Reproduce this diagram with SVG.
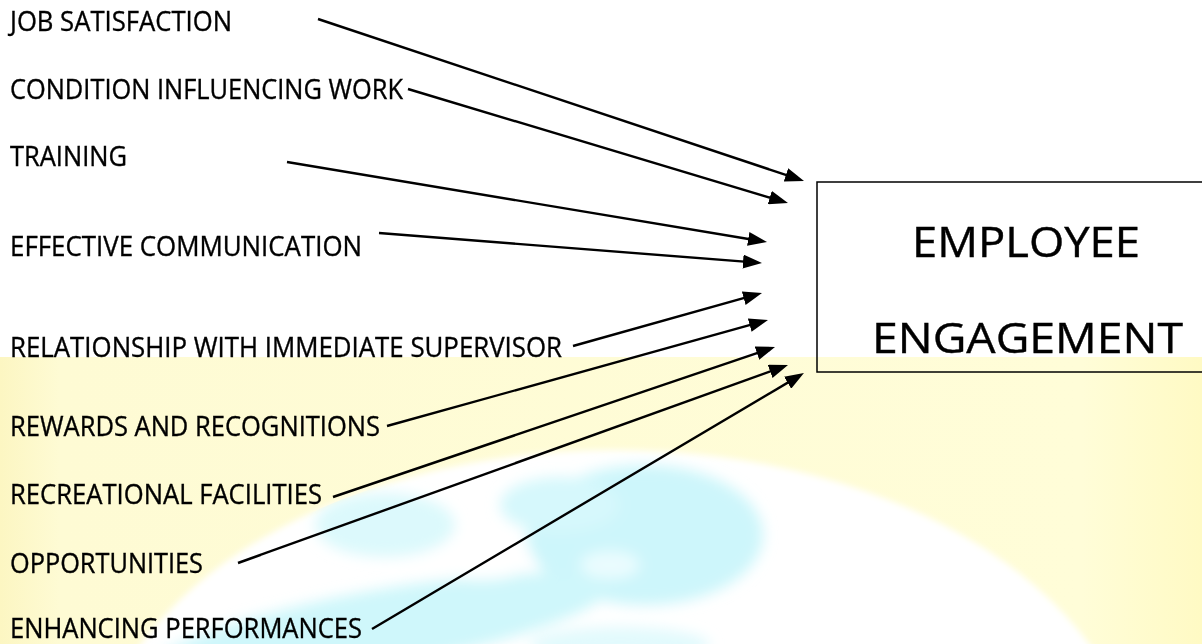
<svg xmlns="http://www.w3.org/2000/svg" width="1202" height="644" viewBox="0 0 1202 644">
  <defs>
    <style>
      .label { font-family: "Open Sans", "Noto Sans", "Liberation Sans", sans-serif; font-size: 26.5px; fill: #000; stroke: #000; stroke-width: 0.35; }
      .title { font-family: "Open Sans", "Noto Sans", "Liberation Sans", sans-serif; font-size: 41.5px; fill: #000; stroke: #000; stroke-width: 0.4; }
      .link { stroke: #000; stroke-width: 2.4; fill: none; marker-end: url(#arrow); }
      .box { fill: none; stroke: #000; stroke-width: 1.5; }
    </style>
    <!-- filled arrowhead, 19 long and 14 wide; the tip sits 8.1 past the line end -->
    <marker id="arrow" viewBox="0 0 19 14" refX="10.9" refY="7" markerUnits="userSpaceOnUse" markerWidth="19" markerHeight="14" orient="auto">
      <path d="M0,0 L19,7 L0,14 z" fill="#000"/>
    </marker>
    <linearGradient id="sand" x1="0" y1="0" x2="1" y2="0">
      <stop offset="0" stop-color="#fcf6c2"/>
      <stop offset="0.05" stop-color="#fefbd4"/>
      <stop offset="0.9" stop-color="#fffdd8"/>
      <stop offset="1" stop-color="#fffac4"/>
    </linearGradient>
    <filter id="edge" x="-10%" y="-10%" width="120%" height="120%">
      <feGaussianBlur stdDeviation="3"/>
    </filter>
    <filter id="haze" x="-20%" y="-20%" width="140%" height="140%">
      <feGaussianBlur stdDeviation="7"/>
    </filter>
    <clipPath id="globeClip">
      <ellipse cx="615" cy="790" rx="525" ry="340"/>
    </clipPath>
  </defs>

  <!-- page and backdrop -->
  <rect x="0" y="0" width="1202" height="644" fill="#fff"/>
  <rect x="0" y="357" width="1202" height="287" fill="url(#sand)"/>
  <g id="globe">
    <ellipse cx="615" cy="790" rx="525" ry="340" fill="#fff" filter="url(#edge)"/>
    <g clip-path="url(#globeClip)" filter="url(#haze)">
      <!-- upper continent -->
      <ellipse cx="645" cy="535" rx="118" ry="70" fill="#cdf6fb"/>
      <ellipse cx="560" cy="505" rx="60" ry="28" fill="#d6f8fc"/>
      <!-- middle patch -->
      <ellipse cx="385" cy="525" rx="70" ry="32" fill="#dcf9fc"/>
      <!-- lower band -->
      <ellipse cx="380" cy="628" rx="230" ry="38" transform="rotate(-10 380 628)" fill="#cff7fb"/>
      <ellipse cx="620" cy="645" rx="90" ry="18" fill="#e2fafd"/>
      <!-- light spots -->
      <ellipse cx="610" cy="565" rx="30" ry="14" fill="#eafcfe"/>
      <ellipse cx="480" cy="560" rx="55" ry="20" fill="#ffffff"/>
    </g>
  </g>

  <!-- connectors -->
  <g id="connectors">
    <line class="link" x1="318" y1="19" x2="796.3" y2="178.4"/>
    <line class="link" x1="408" y1="89" x2="780.2" y2="200.7"/>
    <line class="link" x1="287" y1="162" x2="759.0" y2="240.7"/>
    <line class="link" x1="379" y1="233" x2="753.9" y2="262.4"/>
    <line class="link" x1="573" y1="346" x2="754.2" y2="295.2"/>
    <line class="link" x1="387" y1="426" x2="760.2" y2="322.2"/>
    <line class="link" x1="333" y1="497" x2="767.3" y2="349.6"/>
    <line class="link" x1="238" y1="563" x2="780.4" y2="367.7"/>
    <line class="link" x1="372" y1="629" x2="797.0" y2="377.1"/>
  </g>

  <!-- factor labels -->
  <g id="job-satisfaction"><text class="label" x="10" y="31" textLength="222" lengthAdjust="spacingAndGlyphs">JOB SATISFACTION</text></g>
  <g id="condition-influencing-work"><text class="label" x="10" y="99" textLength="393" lengthAdjust="spacingAndGlyphs">CONDITION INFLUENCING WORK</text></g>
  <g id="training"><text class="label" x="10" y="166" textLength="117" lengthAdjust="spacingAndGlyphs">TRAINING</text></g>
  <g id="effective-communication"><text class="label" x="10" y="256" textLength="352" lengthAdjust="spacingAndGlyphs">EFFECTIVE COMMUNICATION</text></g>
  <g id="relationship-supervisor"><text class="label" x="10" y="357" textLength="552" lengthAdjust="spacingAndGlyphs">RELATIONSHIP WITH IMMEDIATE SUPERVISOR</text></g>
  <g id="rewards-recognitions"><text class="label" x="10" y="436" textLength="370" lengthAdjust="spacingAndGlyphs">REWARDS AND RECOGNITIONS</text></g>
  <g id="recreational-facilities"><text class="label" x="10" y="504" textLength="312" lengthAdjust="spacingAndGlyphs">RECREATIONAL FACILITIES</text></g>
  <g id="opportunities"><text class="label" x="10" y="573" textLength="193" lengthAdjust="spacingAndGlyphs">OPPORTUNITIES</text></g>
  <g id="enhancing-performances"><text class="label" x="10" y="638" textLength="352" lengthAdjust="spacingAndGlyphs">ENHANCING PERFORMANCES</text></g>

  <!-- outcome box -->
  <g id="employee-engagement">
    <rect class="box" x="817" y="182" width="400" height="190"/>
    <text class="title" x="912" y="257" textLength="228" lengthAdjust="spacingAndGlyphs">EMPLOYEE</text>
    <text class="title" x="872" y="353" textLength="311" lengthAdjust="spacingAndGlyphs">ENGAGEMENT</text>
  </g>
</svg>
